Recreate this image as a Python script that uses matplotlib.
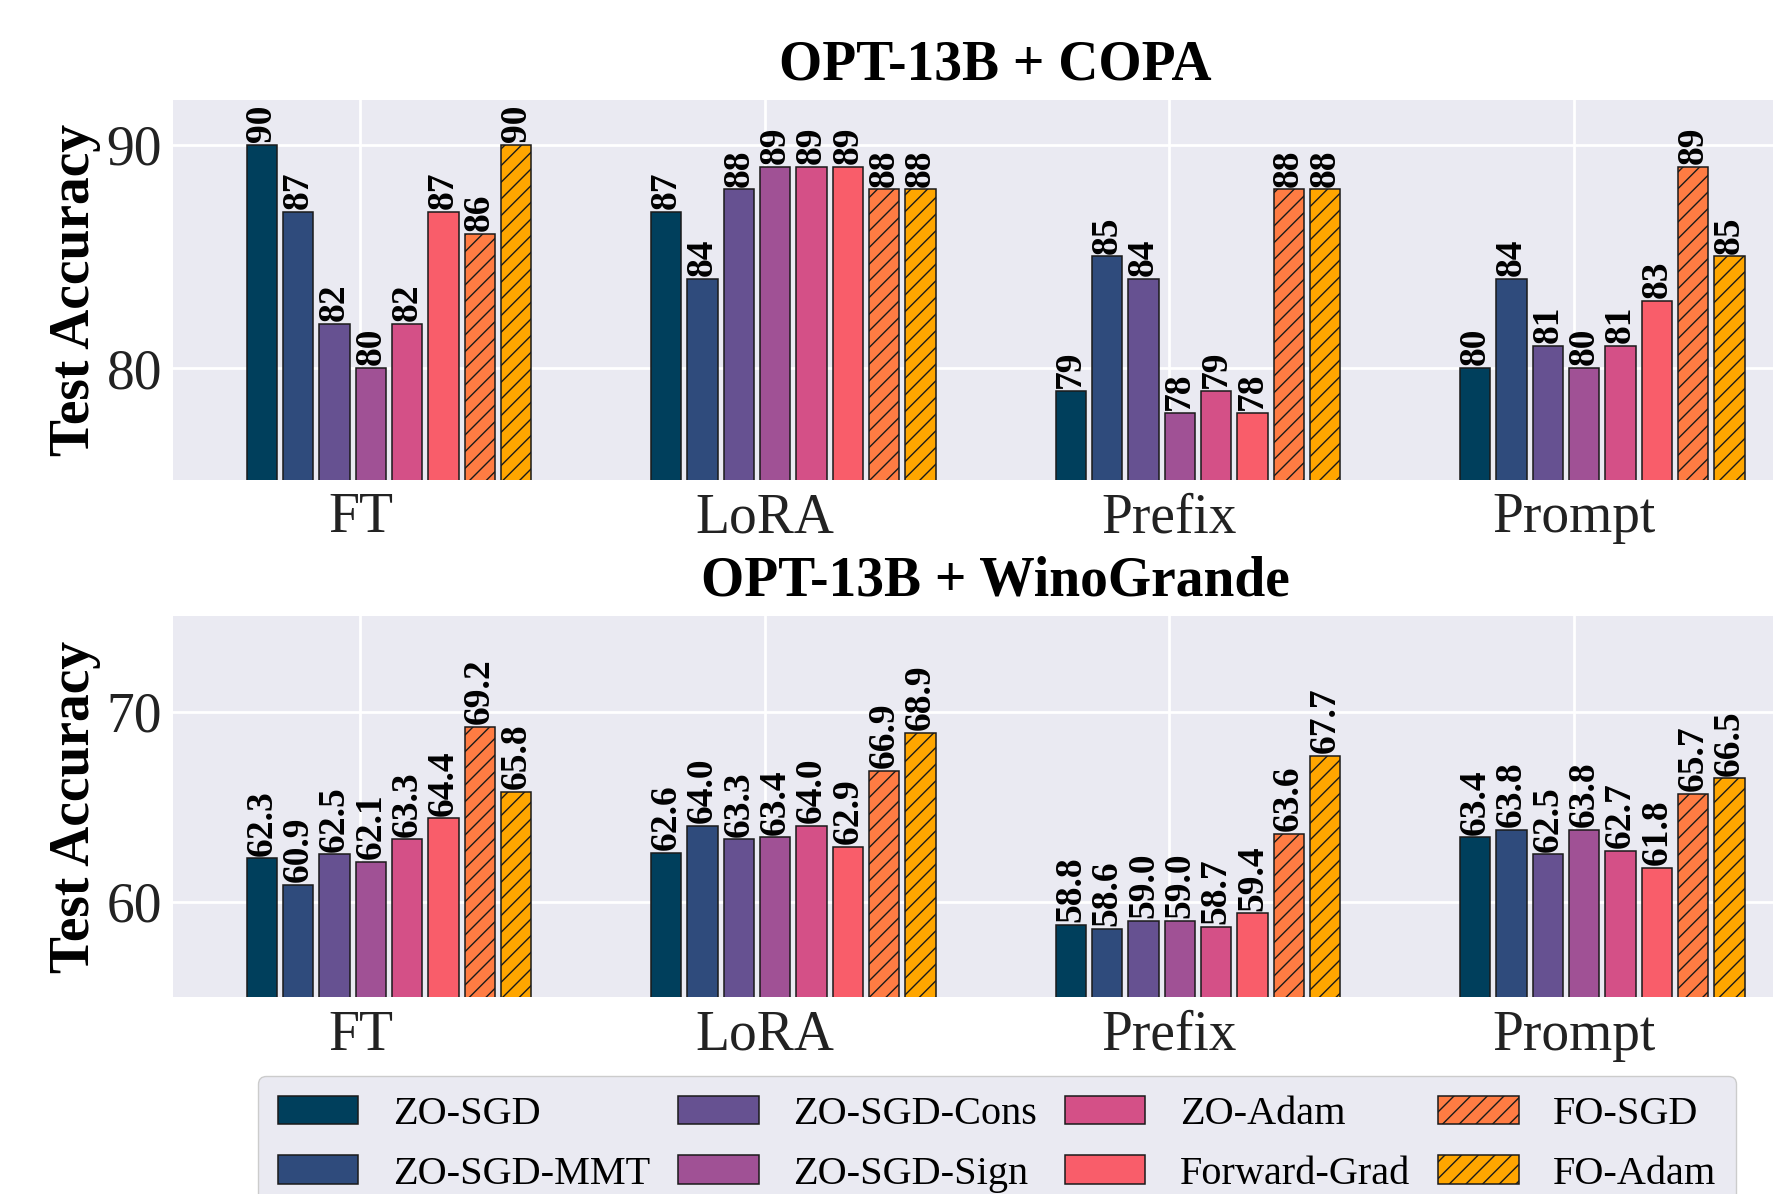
import numpy as np
import matplotlib
matplotlib.use("Agg")
import matplotlib.pyplot as plt

# ---------------- data ----------------
categories = ["FT", "LoRA", "Prefix", "Prompt"]
methods = ["ZO-SGD", "ZO-SGD-MMT", "ZO-SGD-Cons", "ZO-SGD-Sign",
           "ZO-Adam", "Forward-Grad", "FO-SGD", "FO-Adam"]

# rows = methods, columns = categories
copa_values = [
    [90, 87, 79, 80],   # ZO-SGD
    [87, 84, 85, 84],   # ZO-SGD-MMT
    [82, 88, 84, 81],   # ZO-SGD-Cons
    [80, 89, 78, 80],   # ZO-SGD-Sign
    [82, 89, 79, 81],   # ZO-Adam
    [87, 89, 78, 83],   # Forward-Grad
    [86, 88, 88, 89],   # FO-SGD
    [90, 88, 88, 85],   # FO-Adam
]
wino_values = [
    [62.3, 62.6, 58.8, 63.4],
    [60.9, 64.0, 58.6, 63.8],
    [62.5, 63.3, 59.0, 62.5],
    [62.1, 63.4, 59.0, 63.8],
    [63.3, 64.0, 58.7, 62.7],
    [64.4, 62.9, 59.4, 61.8],
    [69.2, 66.9, 63.6, 65.7],
    [65.8, 68.9, 67.7, 66.5],
]
copa_yticks = [80, 90]
wino_yticks = [60, 70]

# ---------------- style ----------------
colors = ["#003f5c", "#2f4b7c", "#665191", "#a05195",
          "#d45087", "#f95d6a", "#ff7c43", "#ffa600"]
hatches = ["", "", "", "", "", "", "//", "//"]

plt.rcParams["font.family"] = ["Liberation Serif", "DejaVu Serif"]
plt.rcParams["hatch.linewidth"] = 1.0
plt.rcParams["hatch.color"] = "#222222"

W, H = 1773, 1194
fig = plt.figure(figsize=(W / 100, H / 100), dpi=100)

left_px = 173
unit_px = 404.5
xlim = (-0.4635, 3.55)
ax_w = (xlim[1] - xlim[0]) * unit_px / W

ax_top = fig.add_axes([left_px / W, 1 - 480 / H, ax_w, 380 / H])
ax_bot = fig.add_axes([left_px / W, 1 - 997 / H, ax_w, 381 / H])

pitch = 0.0898
bar_w = 0.075
start = -0.244
x = np.arange(len(categories))


def draw(ax, values, ylim, yticks, title, fmt):
    ax.set_facecolor("#EAEAF2")
    for s in ax.spines.values():
        s.set_visible(False)
    ax.set_axisbelow(True)
    ax.grid(True, color="white", linewidth=2.0)
    for i, (m, vals) in enumerate(zip(methods, values)):
        c = ax.bar(x + start + i * pitch, vals, width=bar_w, color=colors[i],
                   edgecolor="#1a1a1a", linewidth=1.1, hatch=hatches[i],
                   label=m, zorder=2)
        ax.bar_label(c, labels=[fmt % v for v in vals], rotation=90,
                     padding=2, fontsize=27, fontweight="bold")
    ax.set_xlim(*xlim)
    ax.set_ylim(*ylim)
    ax.set_xticks(x)
    ax.set_xticklabels(categories)
    ax.set_yticks(yticks)
    ax.tick_params(axis="both", length=0, labelsize=40, colors="#222222")
    ax.tick_params(axis="x", pad=9)
    ax.tick_params(axis="y", pad=8)
    ax.set_ylabel("Test Accuracy", fontsize=40, fontweight="bold", labelpad=4)
    ax.set_title(title, fontsize=40, fontweight="bold", pad=15,
                 x=(995 - left_px) / (ax_w * W))


draw(ax_top, copa_values, (75, 92), copa_yticks, "OPT-13B + COPA", "%d")
draw(ax_bot, wino_values, (55, 75.05), wino_yticks, "OPT-13B + WinoGrande", "%.1f")

handles, labels = ax_top.get_legend_handles_labels()
leg = fig.legend(handles, labels, loc="upper center", ncol=4,
                 bbox_to_anchor=(997 / W, 1 - 1076 / H), fontsize=29,
                 frameon=True, facecolor="#EAEAF2", edgecolor="#cccccc",
                 columnspacing=0.7, handletextpad=0.85, labelspacing=0.55,
                 borderpad=0.5, borderaxespad=0.0, fancybox=True)
leg.get_frame().set_alpha(1.0)

fig.savefig("out.png", dpi=100)
